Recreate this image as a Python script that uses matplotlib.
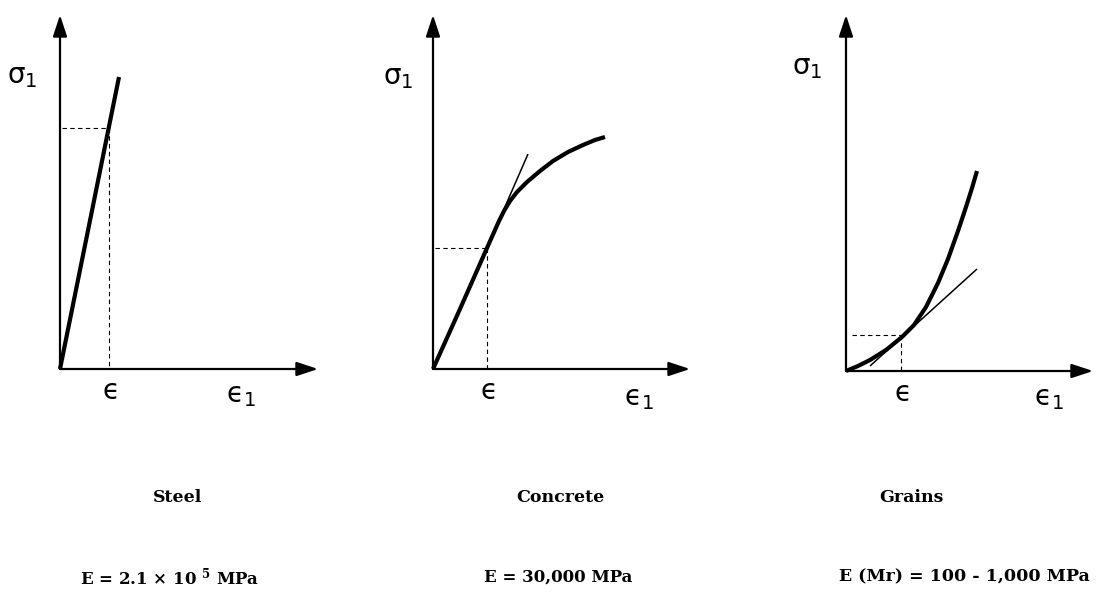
import matplotlib
matplotlib.use("Agg")
import matplotlib.pyplot as plt

# ---------------- data (arbitrary strain / stress units) ----------------
materials = ["Steel", "Concrete", "Grains"]
moduli = [r"E = 2.1 × 10 $^{\mathbf{5}}$ MPa", "E = 30,000 MPa", "E (Mr) = 100 - 1,000 MPa"]

steel_strain = [0.0, 0.59]
steel_stress = [0.0, 2.92]
steel_point = (0.49, 2.41)

concrete_strain = [0.0, 0.27, 0.54, 0.66, 0.71, 0.77, 0.84, 0.94, 1.07, 1.20, 1.35, 1.50, 1.62, 1.72]
concrete_stress = [0.0, 0.60, 1.21, 1.48, 1.58, 1.68, 1.77, 1.87, 1.98, 2.08, 2.17, 2.24, 2.29, 2.32]
concrete_tangent_strain = [0.54, 0.95]
concrete_tangent_stress = [1.21, 2.15]
concrete_point = (0.54, 1.21)

grains_strain = [0.0, 0.12, 0.24, 0.40, 0.56, 0.68, 0.80, 0.92, 1.02, 1.12, 1.20, 1.26, 1.31]
grains_stress = [0.0, 0.05, 0.11, 0.21, 0.34, 0.46, 0.64, 0.88, 1.12, 1.40, 1.64, 1.83, 2.00]
grains_tangent_strain = [0.24, 1.31]
grains_tangent_stress = [0.05, 1.02]
grains_point = (0.55, 0.36)

# ---------------- layout ----------------
W, H = 1100, 599
fig = plt.figure(figsize=(W / 100, H / 100), dpi=100)
fig.patch.set_facecolor("white")

origins_px = [(60, 369), (433, 369), (846, 371)]
x_arrow_len = [2.58, 2.57, 2.47]
y_arrow_len = [3.54, 3.54, 3.56]
sigma_pos = [(-0.38, 2.93), (-0.35, 2.92), (-0.39, 3.04)]
eps1_pos = [(1.81, -0.26), (2.06, -0.29), (2.03, -0.27)]

curves = [
    (steel_strain, steel_stress, None, None, steel_point),
    (concrete_strain, concrete_stress, concrete_tangent_strain, concrete_tangent_stress, concrete_point),
    (grains_strain, grains_stress, grains_tangent_strain, grains_tangent_stress, grains_point),
]

for i, (ox, oy) in enumerate(origins_px):
    left_px, right_px = ox - 60, ox + 250
    top_px, bot_px = 0, 420
    ax = fig.add_axes([left_px / W, 1 - bot_px / H, (right_px - left_px) / W, (bot_px - top_px) / H])
    ax.set_xlim(-0.6, 2.5)
    ax.set_ylim((oy - bot_px) / 100, oy / 100)
    ax.axis("off")

    # axes arrows
    arrow_kw = dict(arrowstyle="-|>,head_length=13,head_width=4.3", mutation_scale=1,
                    lw=1.6, color="black", shrinkA=0, shrinkB=0)
    ax.annotate("", xy=(x_arrow_len[i], 0), xytext=(0, 0), arrowprops=arrow_kw, annotation_clip=False)
    ax.annotate("", xy=(0, y_arrow_len[i]), xytext=(0, 0), arrowprops=arrow_kw, annotation_clip=False)

    xs, ys, tx, ty, pt = curves[i]
    # dashed guides
    ax.plot([0.02 if i < 2 else 0.06, pt[0]], [pt[1], pt[1]], color="black", lw=0.8,
            linestyle=(0, (4, 3)))
    ax.plot([pt[0], pt[0]], [pt[1], 0], color="black", lw=0.8, linestyle=(0, (4, 3)))
    # tangent
    if tx is not None:
        ax.plot(tx, ty, color="black", lw=1.1, solid_capstyle="butt")
    # curve
    ax.plot(xs, ys, color="black", lw=3.0, solid_capstyle="butt", solid_joinstyle="round")

    # labels
    ax.text(pt[0] + 0.02, -0.22, "ϵ", family="DejaVu Sans", fontsize=20, ha="center", va="center")
    ax.text(eps1_pos[i][0], eps1_pos[i][1], r"$\mathregular{ϵ_1}$", fontsize=20,
            ha="center", va="center")
    ax.text(sigma_pos[i][0], sigma_pos[i][1], r"$\mathregular{\sigma_1}$", fontsize=20,
            ha="center", va="center")

name_x = [178, 560, 911]
mod_x = [170, 558, 964]
mod_size = [12, 12, 12.5]
for i in range(3):
    fig.text(name_x[i] / W, 1 - 497 / H, materials[i], family="DejaVu Serif", weight="bold",
             fontsize=12.5, ha="center", va="center")
    fig.text(mod_x[i] / W, 1 - 577 / H, moduli[i], family="DejaVu Serif", weight="bold",
             fontsize=mod_size[i], ha="center", va="center", math_fontfamily="dejavuserif")

fig.savefig("out.png", dpi=100, facecolor="white")
